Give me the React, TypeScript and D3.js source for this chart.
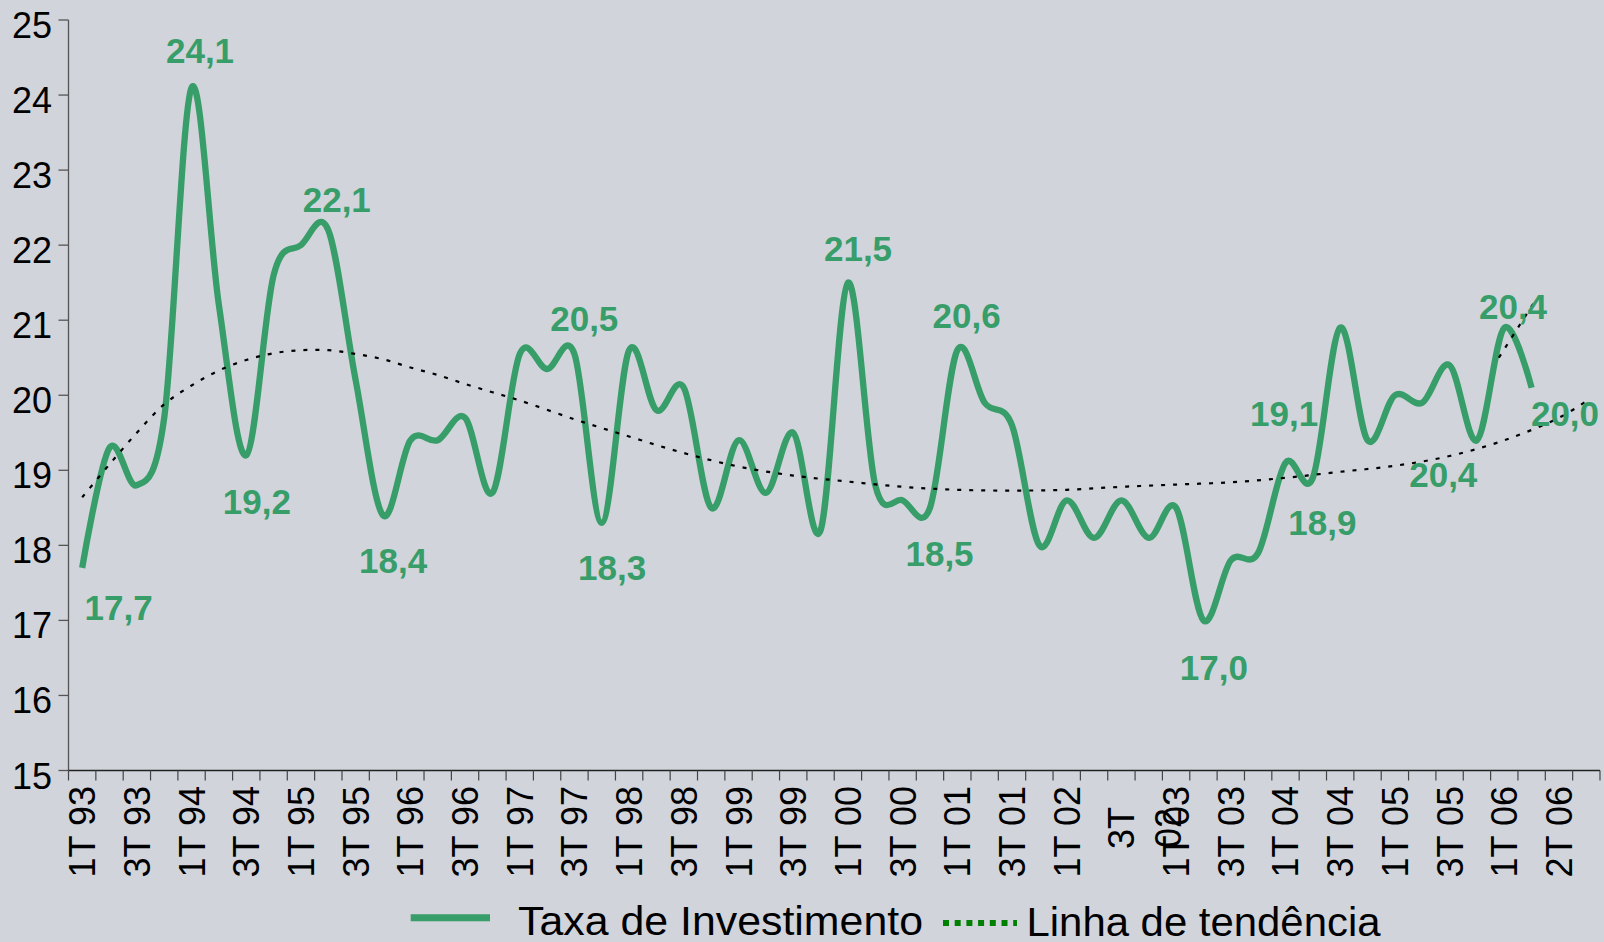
import React from "react";
import * as d3 from "d3";

// Categories: quarters 1T 93 .. 4T 06
const years = ["93","94","95","96","97","98","99","00","01","02","03","04","05","06"];
const quarterNames = ["1T","2T","3T","4T"];
const quarters: string[] = years.flatMap((yy) => quarterNames.map((q) => `${q} ${yy}`));

// Taxa de Investimento (% do PIB), 1T 93 .. 2T 06
const investmentRate = [
  17.7, 19.3, 18.8, 19.7, 24.1, 21.2, 19.2, 21.6, 22.0, 22.2,
  20.2, 18.4, 19.4, 19.4, 19.7, 18.7, 20.55, 20.35, 20.55, 18.3,
  20.6, 19.8, 20.1, 18.5, 19.4, 18.7, 19.5, 18.2, 21.5, 18.8,
  18.6, 18.5, 20.6, 19.9, 19.6, 18.0, 18.6, 18.1, 18.6, 18.1,
  18.5, 17.0, 17.8, 17.9, 19.1, 18.9, 20.9, 19.4, 20.0, 19.9,
  20.4, 19.4, 20.9, 20.1,
];

// Linha de tendência
const trendAt = [0, 1, 2, 3, 4, 5, 6, 7, 8, 9, 10, 11, 12, 13, 14, 15, 16, 18, 20, 22, 24, 26, 28, 30, 32, 34, 36, 38, 40, 42, 44, 46, 48, 50, 52, 54, 55];
const trendValues = [
  18.64, 19.08, 19.5, 19.88, 20.13, 20.33, 20.47, 20.56, 20.6, 20.6,
  20.55, 20.48, 20.37, 20.27, 20.15, 20.04, 19.93, 19.68, 19.45, 19.23,
  19.05, 18.93, 18.85, 18.78, 18.74, 18.73, 18.74, 18.78, 18.81, 18.84,
  18.9, 18.98, 19.06, 19.19, 19.4, 19.7, 19.92,
];
// small stray trend fragment near the end
const trendFragmentAt = [51.8, 53.2];
const trendFragmentValues = [20.5, 21.3];

// Category axis labels (every second quarter)
const tickLabels = [
  "1T 93","3T 93","1T 94","3T 94","1T 95","3T 95","1T 96","3T 96","1T 97","3T 97",
  "1T 98","3T 98","1T 99","3T 99","1T 00","3T 00","1T 01","3T 01","1T 02","3T 02",
  "1T 03","3T 03","1T 04","3T 04","1T 05","3T 05","1T 06","2T 06",
];
const yTicks = [15, 16, 17, 18, 19, 20, 21, 22, 23, 24, 25];

// Data labels: text, category position, value position
const labelTexts = ["17,7","24,1","19,2","22,1","18,4","20,5","18,3","21,5","18,5","20,6","17,0","19,1","18,9","20,4","20,4","20,0"];
const labelAt = [1.33, 4.31, 6.39, 9.31, 11.37, 18.36, 19.38, 28.37, 31.35, 32.34, 41.38, 43.95, 45.35, 49.77, 52.32, 54.22];
const labelVal = [17.17, 24.6, 18.58, 22.61, 17.8, 21.02, 17.7, 21.95, 17.89, 21.06, 16.37, 19.76, 18.31, 18.94, 21.18, 19.76];

const legendItems = ["Taxa de Investimento", "Linha de tendência"];

const GREEN = "#379d69";
const BG = "#d1d4db";
const FONT = "'Liberation Sans', Arial, Helvetica, sans-serif";

export default function App() {
  const W = 1604;
  const H = 942;
  const x = d3.scaleBand<string>().domain(quarters).range([68.5, 1600]).paddingInner(0).paddingOuter(0);
  const bw = x.bandwidth();
  const xi = (i: number) => (x(quarters[0]) as number) + (i + 0.5) * bw;
  const y = d3.scaleLinear().domain([15, 25]).range([770.5, 20]);

  const mainLine = d3
    .line<number>()
    .x((_, i) => xi(i))
    .y((d) => y(d))
    .curve(d3.curveCatmullRom.alpha(0));

  const trendLine = d3
    .line<number>()
    .x((_, i) => xi(trendAt[i]))
    .y((d) => y(d))
    .curve(d3.curveCatmullRom.alpha(0.5));

  const fragLine = d3
    .line<number>()
    .x((_, i) => xi(trendFragmentAt[i]))
    .y((d) => y(d));

  const x0 = 68.5;
  const yBase = y(15);

  return (
    <svg
      width={W}
      height={H}
      style={{ position: "absolute", left: 0, top: 0, display: "block" }}
      fontFamily={FONT}
    >
      <rect x={0} y={0} width={W} height={H} fill={BG} />

      {/* Y axis */}
      <line x1={x0} x2={x0} y1={y(25)} y2={yBase} stroke="#555" strokeWidth={1.3} />
      {yTicks.map((t) => (
        <g key={t}>
          <line x1={x0 - 10} x2={x0} y1={y(t)} y2={y(t)} stroke="#555" strokeWidth={1.3} />
          <text x={52} y={y(t) + 18} textAnchor="end" fontSize={36} fill="#000">
            {t}
          </text>
        </g>
      ))}

      {/* X axis */}
      <line x1={x0} x2={1600} y1={yBase} y2={yBase} stroke="#222" strokeWidth={1.3} />
      {d3.range(quarters.length + 1).map((i) => {
        const px = x0 + i * bw;
        return <line key={i} x1={px} x2={px} y1={yBase} y2={yBase + 10} stroke="#444" strokeWidth={1.2} />;
      })}
      {tickLabels.map((lab, k) => {
        const cx = xi(k * 2);
        if (lab === "3T 02") {
          const parts = lab.split(" ");
          return (
            <g key={k}>
              {parts.map((p, j) => (
                <text
                  key={j}
                  transform={`translate(${cx + 13 + j * 47},828) rotate(-90)`}
                  textAnchor="middle"
                  fontSize={36}
                  fill="#000"
                >
                  {p}
                </text>
              ))}
            </g>
          );
        }
        return (
          <text
            key={k}
            transform={`translate(${cx + 13},786) rotate(-90)`}
            textAnchor="end"
            fontSize={36}
            fill="#000"
          >
            {lab}
          </text>
        );
      })}

      {/* Data line */}
      <path d={mainLine(investmentRate) || ""} fill="none" stroke={GREEN} strokeWidth={6.3} strokeLinejoin="round" strokeLinecap="butt" />

      {/* Trend line */}
      <path d={trendLine(trendValues) || ""} fill="none" stroke="#000" strokeWidth={2.2} strokeDasharray="4 8" />
      <path d={fragLine(trendFragmentValues) || ""} fill="none" stroke="#000" strokeWidth={2.2} strokeDasharray="4 8" />

      {/* Data labels */}
      {labelTexts.map((t, k) => (
        <text
          key={k}
          x={xi(labelAt[k])}
          y={y(labelVal[k]) + 12.5}
          textAnchor="middle"
          fontSize={35}
          fontWeight="bold"
          fill={GREEN}
        >
          {t}
        </text>
      ))}

      {/* Legend */}
      <line x1={410.7} x2={490} y1={917.7} y2={917.7} stroke={GREEN} strokeWidth={7} />
      <text x={518} y={935} fontSize={41} fill="#000" textLength={405} lengthAdjust="spacingAndGlyphs">
        {legendItems[0]}
      </text>
      <line x1={943} x2={1017} y1={923} y2={923} stroke="#008000" strokeWidth={6} strokeDasharray="6 5.7" />
      <text x={1026.5} y={936} fontSize={41} fill="#000" textLength={354} lengthAdjust="spacingAndGlyphs">
        {legendItems[1]}
      </text>
    </svg>
  );
}
